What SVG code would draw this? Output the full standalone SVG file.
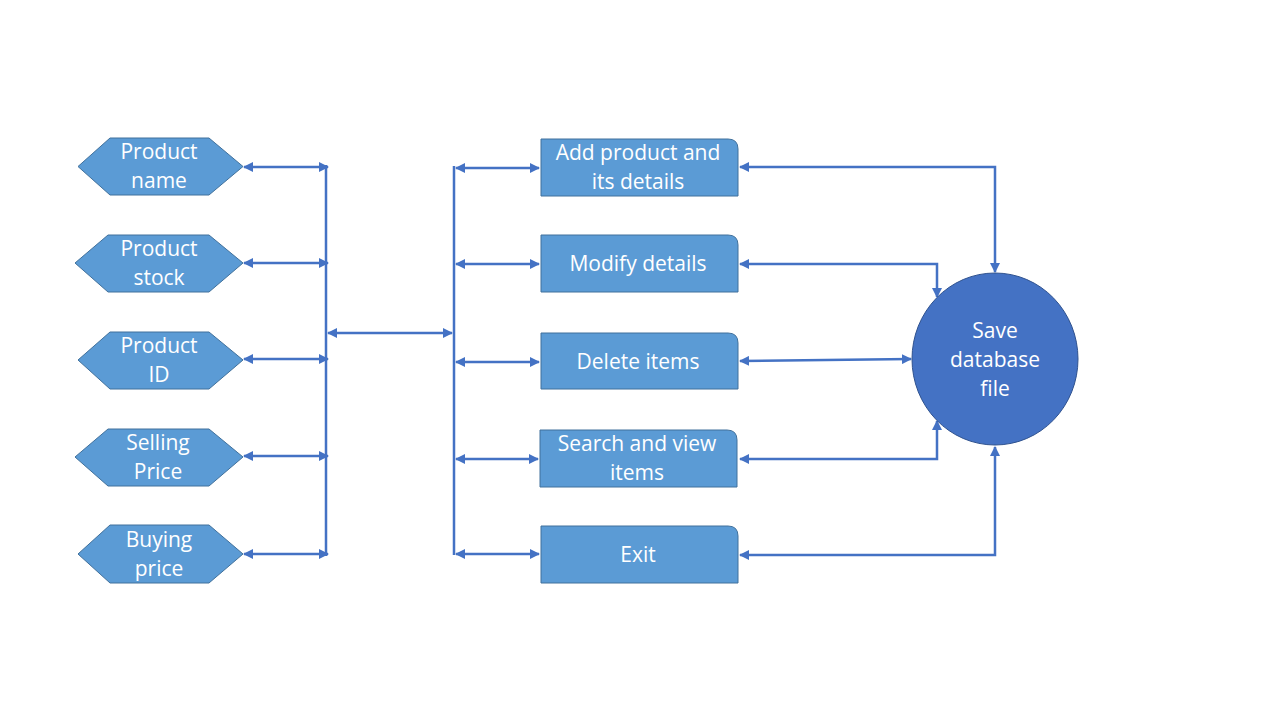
<svg xmlns="http://www.w3.org/2000/svg" width="1280" height="720" viewBox="0 0 1280 720">
<style>
.hex{fill:#5B9BD5;stroke:#41719C;stroke-width:1}
.box{fill:#5B9BD5;stroke:#41719C;stroke-width:1}
.circ{fill:#4472C4;stroke:#2F528F;stroke-width:1}
.t{font-family:"Open Sans","Liberation Sans",sans-serif;font-size:21px;fill:#FFFFFF;text-anchor:middle}
.ln{fill:none;stroke:#4472C4;stroke-width:2.5}
.dbl{fill:none;stroke:#4472C4;stroke-width:2.5;marker-start:url(#ah);marker-end:url(#ah)}
</style>
<defs>
<marker id="ah" viewBox="0 0 10 10" refX="9" refY="5" markerWidth="4" markerHeight="4" orient="auto-start-reverse" markerUnits="strokeWidth">
<path d="M0,0 L10,5 L0,10 Z" fill="#4472C4"/>
</marker>
</defs>
<rect width="1280" height="720" fill="#FFFFFF"/>
<g id="connectors">
<line class="dbl" x1="244" y1="167" x2="328" y2="167"/>
<line class="dbl" x1="244" y1="263" x2="328" y2="263"/>
<line class="dbl" x1="244" y1="359" x2="328" y2="359"/>
<line class="dbl" x1="244" y1="456" x2="328" y2="456"/>
<line class="dbl" x1="244" y1="554" x2="328" y2="554"/>
<line class="ln" x1="326" y1="165" x2="326" y2="556"/>
<line class="dbl" x1="328" y1="333" x2="452" y2="333"/>
<line class="ln" x1="454" y1="166" x2="454" y2="555"/>
<line class="dbl" x1="456" y1="168" x2="539" y2="168"/>
<line class="dbl" x1="456" y1="264" x2="539" y2="264"/>
<line class="dbl" x1="456" y1="362" x2="539" y2="362"/>
<line class="dbl" x1="456" y1="459" x2="538" y2="459"/>
<line class="dbl" x1="456" y1="554" x2="539" y2="554"/>
<polyline class="dbl" points="740,167 995,167 995,272"/>
<polyline class="dbl" points="740,264 937,264 937,297"/>
<line class="dbl" x1="740" y1="361" x2="911" y2="359"/>
<polyline class="dbl" points="740,459 937,459 937,421"/>
<polyline class="dbl" points="740,555 995,555 995,447"/>
</g>
<g id="product-name">
<polygon class="hex" points="78,166.5 110,138 209,138 243,166.5 209,195 110,195"/>
<text class="t" x="159" y="159">Product</text>
<text class="t" x="159" y="188">name</text>
</g>
<g id="product-stock">
<polygon class="hex" points="75,263 108,235 209,235 243,263 209,292 108,292"/>
<text class="t" x="159" y="256">Product</text>
<text class="t" x="159" y="285">stock</text>
</g>
<g id="product-id">
<polygon class="hex" points="78,360 110,332 209,332 243,360 209,389 110,389"/>
<text class="t" x="159" y="353">Product</text>
<text class="t" x="159" y="382">ID</text>
</g>
<g id="selling-price">
<polygon class="hex" points="75,457 108,429 209,429 243,457 209,486 108,486"/>
<text class="t" x="158" y="450">Selling</text>
<text class="t" x="158" y="479">Price</text>
</g>
<g id="buying-price">
<polygon class="hex" points="78,554 110,525 209,525 243,554 209,583 110,583"/>
<text class="t" x="159" y="547">Buying</text>
<text class="t" x="159" y="576">price</text>
</g>
<g id="add-product">
<path class="box" d="M541,139 H728 Q738,139 738,149 V196 H541 Z"/>
<text class="t" x="638" y="160">Add product and</text>
<text class="t" x="638" y="189">its details</text>
</g>
<g id="modify-details">
<path class="box" d="M541,235 H728 Q738,235 738,245 V292 H541 Z"/>
<text class="t" x="638" y="271">Modify details</text>
</g>
<g id="delete-items">
<path class="box" d="M541,333 H728 Q738,333 738,343 V389 H541 Z"/>
<text class="t" x="638" y="369">Delete items</text>
</g>
<g id="search-view">
<path class="box" d="M540,430 H727 Q737,430 737,440 V487 H540 Z"/>
<text class="t" x="637" y="451">Search and view</text>
<text class="t" x="637" y="480">items</text>
</g>
<g id="exit">
<path class="box" d="M541,526 H728 Q738,526 738,536 V583 H541 Z"/>
<text class="t" x="638" y="562">Exit</text>
</g>
<g id="save-database">
<ellipse class="circ" cx="995" cy="359" rx="83" ry="86"/>
<text class="t" x="995" y="338">Save</text>
<text class="t" x="995" y="367">database</text>
<text class="t" x="995" y="396">file</text>
</g>
</svg>
